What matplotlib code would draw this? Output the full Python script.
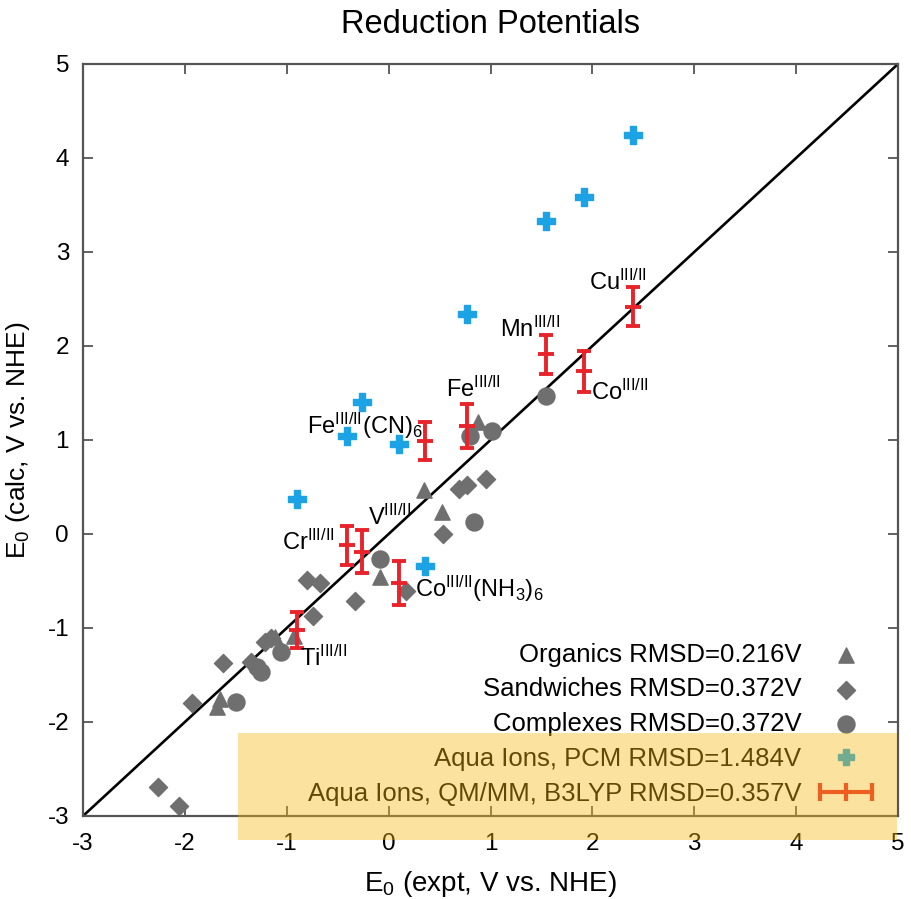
import matplotlib
matplotlib.use('Agg')
import matplotlib.pyplot as plt
from matplotlib.lines import Line2D
from matplotlib.patches import Rectangle
from matplotlib.legend_handler import HandlerLine2D

plt.rcParams['font.family'] = ['Liberation Sans', 'DejaVu Sans']
plt.rcParams['mathtext.fontset'] = 'custom'
plt.rcParams['mathtext.rm'] = 'Liberation Sans'
plt.rcParams['mathtext.it'] = 'Liberation Sans:italic'
plt.rcParams['mathtext.bf'] = 'Liberation Sans:bold'
plt.rcParams['axes.unicode_minus'] = False

# 有机物
organics_x = [-1.66, -1.68, -0.93, -1.12, -0.08, 0.35, 0.52, 0.88]
organics_y = [-1.75, -1.84, -1.08, -1.10, -0.46, 0.47, 0.23, 1.19]

# 夹心化合物
sandwich_x = [-2.26, -2.06, -1.93, -1.63, -1.35, -1.21, -1.15, -0.74, -0.80, -0.67,
              -0.33, 0.17, 0.53, 0.69, 0.77, 0.96]
sandwich_y = [-2.69, -2.89, -1.80, -1.37, -1.36, -1.15, -1.11, -0.87, -0.49, -0.52,
              -0.71, -0.61, 0.00, 0.48, 0.52, 0.58]

# 配合物
complex_x = [-1.50, -1.29, -1.25, -1.06, -0.08, 0.84, 0.80, 1.01, 1.54]
complex_y = [-1.79, -1.42, -1.47, -1.26, -0.27, 0.13, 1.04, 1.10, 1.47]

# 水合离子
ions = ['Cu', 'Co', 'Mn', 'Fe', 'V', 'Cr', 'Co(NH3)6', 'Ti', 'Fe(CN)6']
ion_expt = [2.40, 1.92, 1.54, 0.77, -0.26, -0.41, 0.10, -0.90, 0.36]
pcm_calc = [4.25, 3.59, 3.33, 2.34, 1.40, 1.04, 0.96, 0.37, -0.34]
qmmm_calc = [2.42, 1.73, 1.91, 1.15, -0.19, -0.12, -0.52, -1.02, 0.99]
qmmm_err = [0.21, 0.22, 0.21, 0.23, 0.23, 0.21, 0.23, 0.19, 0.20]

# 标注文字 (基线位置)
ion_labels = [r'Cu$^{\mathrm{III/II}}$', r'Co$^{\mathrm{III/II}}$', r'Mn$^{\mathrm{III/II}}$',
              r'Fe$^{\mathrm{III/II}}$', r'V$^{\mathrm{III/II}}$', r'Cr$^{\mathrm{III/II}}$',
              r'Co$^{\mathrm{III/II}}$(NH$_3$)$_6$', r'Ti$^{\mathrm{III/II}}$',
              r'Fe$^{\mathrm{III/II}}$(CN)$_6$']
label_x = [1.97, 1.99, 1.09, 0.56, -0.20, -1.05, 0.26, -0.87, -0.80]
label_y = [2.60, 1.43, 2.10, 1.46, 0.10, -0.17, -0.67, -1.40, 1.07]

grey = '#6f6f6f'
blue = '#1ba3e6'
red = '#e8232a'

fig = plt.figure(figsize=(9.11, 8.99), dpi=100)
ax = fig.add_axes([83 / 911, 83 / 899, 815 / 911, 752 / 899])

ax.plot([-3, 5], [-3, 5], color='black', lw=1.9, zorder=1)

ax.scatter(organics_x, organics_y, marker='^', s=120, color=grey, zorder=2,
           label='Organics RMSD=0.216V')
ax.scatter(sandwich_x, sandwich_y, marker='D', s=85, color=grey, zorder=2,
           label='Sandwiches RMSD=0.372V')
ax.scatter(complex_x, complex_y, marker='o', s=150, color=grey, zorder=2,
           label='Complexes RMSD=0.372V')
ax.scatter(ion_expt, pcm_calc, marker='P', s=150, color=blue, zorder=3)
ax.errorbar(ion_expt, qmmm_calc, yerr=qmmm_err, fmt='_', color=red, ecolor=red,
            markersize=12, mew=2.8, elinewidth=2.8, capsize=5, capthick=2.8, zorder=4)

for lx, ly, t in zip(label_x, label_y, ion_labels):
    ax.text(lx, ly, t, fontsize=17, ha='left', va='baseline', zorder=5)

ax.set_xlim(-3, 5)
ax.set_ylim(-3, 5)
ax.set_xticks(range(-3, 6))
ax.set_yticks(range(-3, 6))
ax.tick_params(direction='in', length=7, width=1.3, color='#555555', labelsize=17.5,
               top=True, right=True)
ax.tick_params(axis='x', pad=12)
ax.tick_params(axis='y', pad=10)
for sp in ax.spines.values():
    sp.set_color('#555555')
    sp.set_linewidth(1.6)

ax.set_title('Reduction Potentials', fontsize=23.5, pad=22)
ax.set_xlabel(r'E$_0$ (expt, V vs. NHE)', fontsize=20, labelpad=10)
ax.set_ylabel(r'E$_0$ (calc, V vs. NHE)', fontsize=19, labelpad=11)

# 图例 (黄色框下的颜色由叠加产生)
handles, labels = ax.get_legend_handles_labels()
pcm_handle = Line2D([], [], linestyle='none', marker='P', markersize=12, color=blue)
qmmm_handle = Line2D([], [], color=red, lw=3, marker='|', markersize=13, mew=3)
handles += [pcm_handle, qmmm_handle]
labels += ['Aqua Ions, PCM RMSD=1.484V', 'Aqua Ions, QM/MM, B3LYP RMSD=0.357V']
ax.legend(handles, labels, loc='lower right', bbox_to_anchor=(0.99, 0.0),
          frameon=False, markerfirst=False, fontsize=18.5, scatterpoints=1,
          handlelength=2.6, handletextpad=0.45, labelspacing=0.42, borderaxespad=0,
          handler_map={qmmm_handle: HandlerLine2D(numpoints=3)})

# 黄色高亮框
fig.add_artist(Rectangle((238 / 911, 59 / 899), 659 / 911, 107 / 899,
                         transform=fig.transFigure, facecolor='#f7bb11',
                         edgecolor='none', alpha=0.4, zorder=1000))

plt.savefig('out.png', dpi=100)
